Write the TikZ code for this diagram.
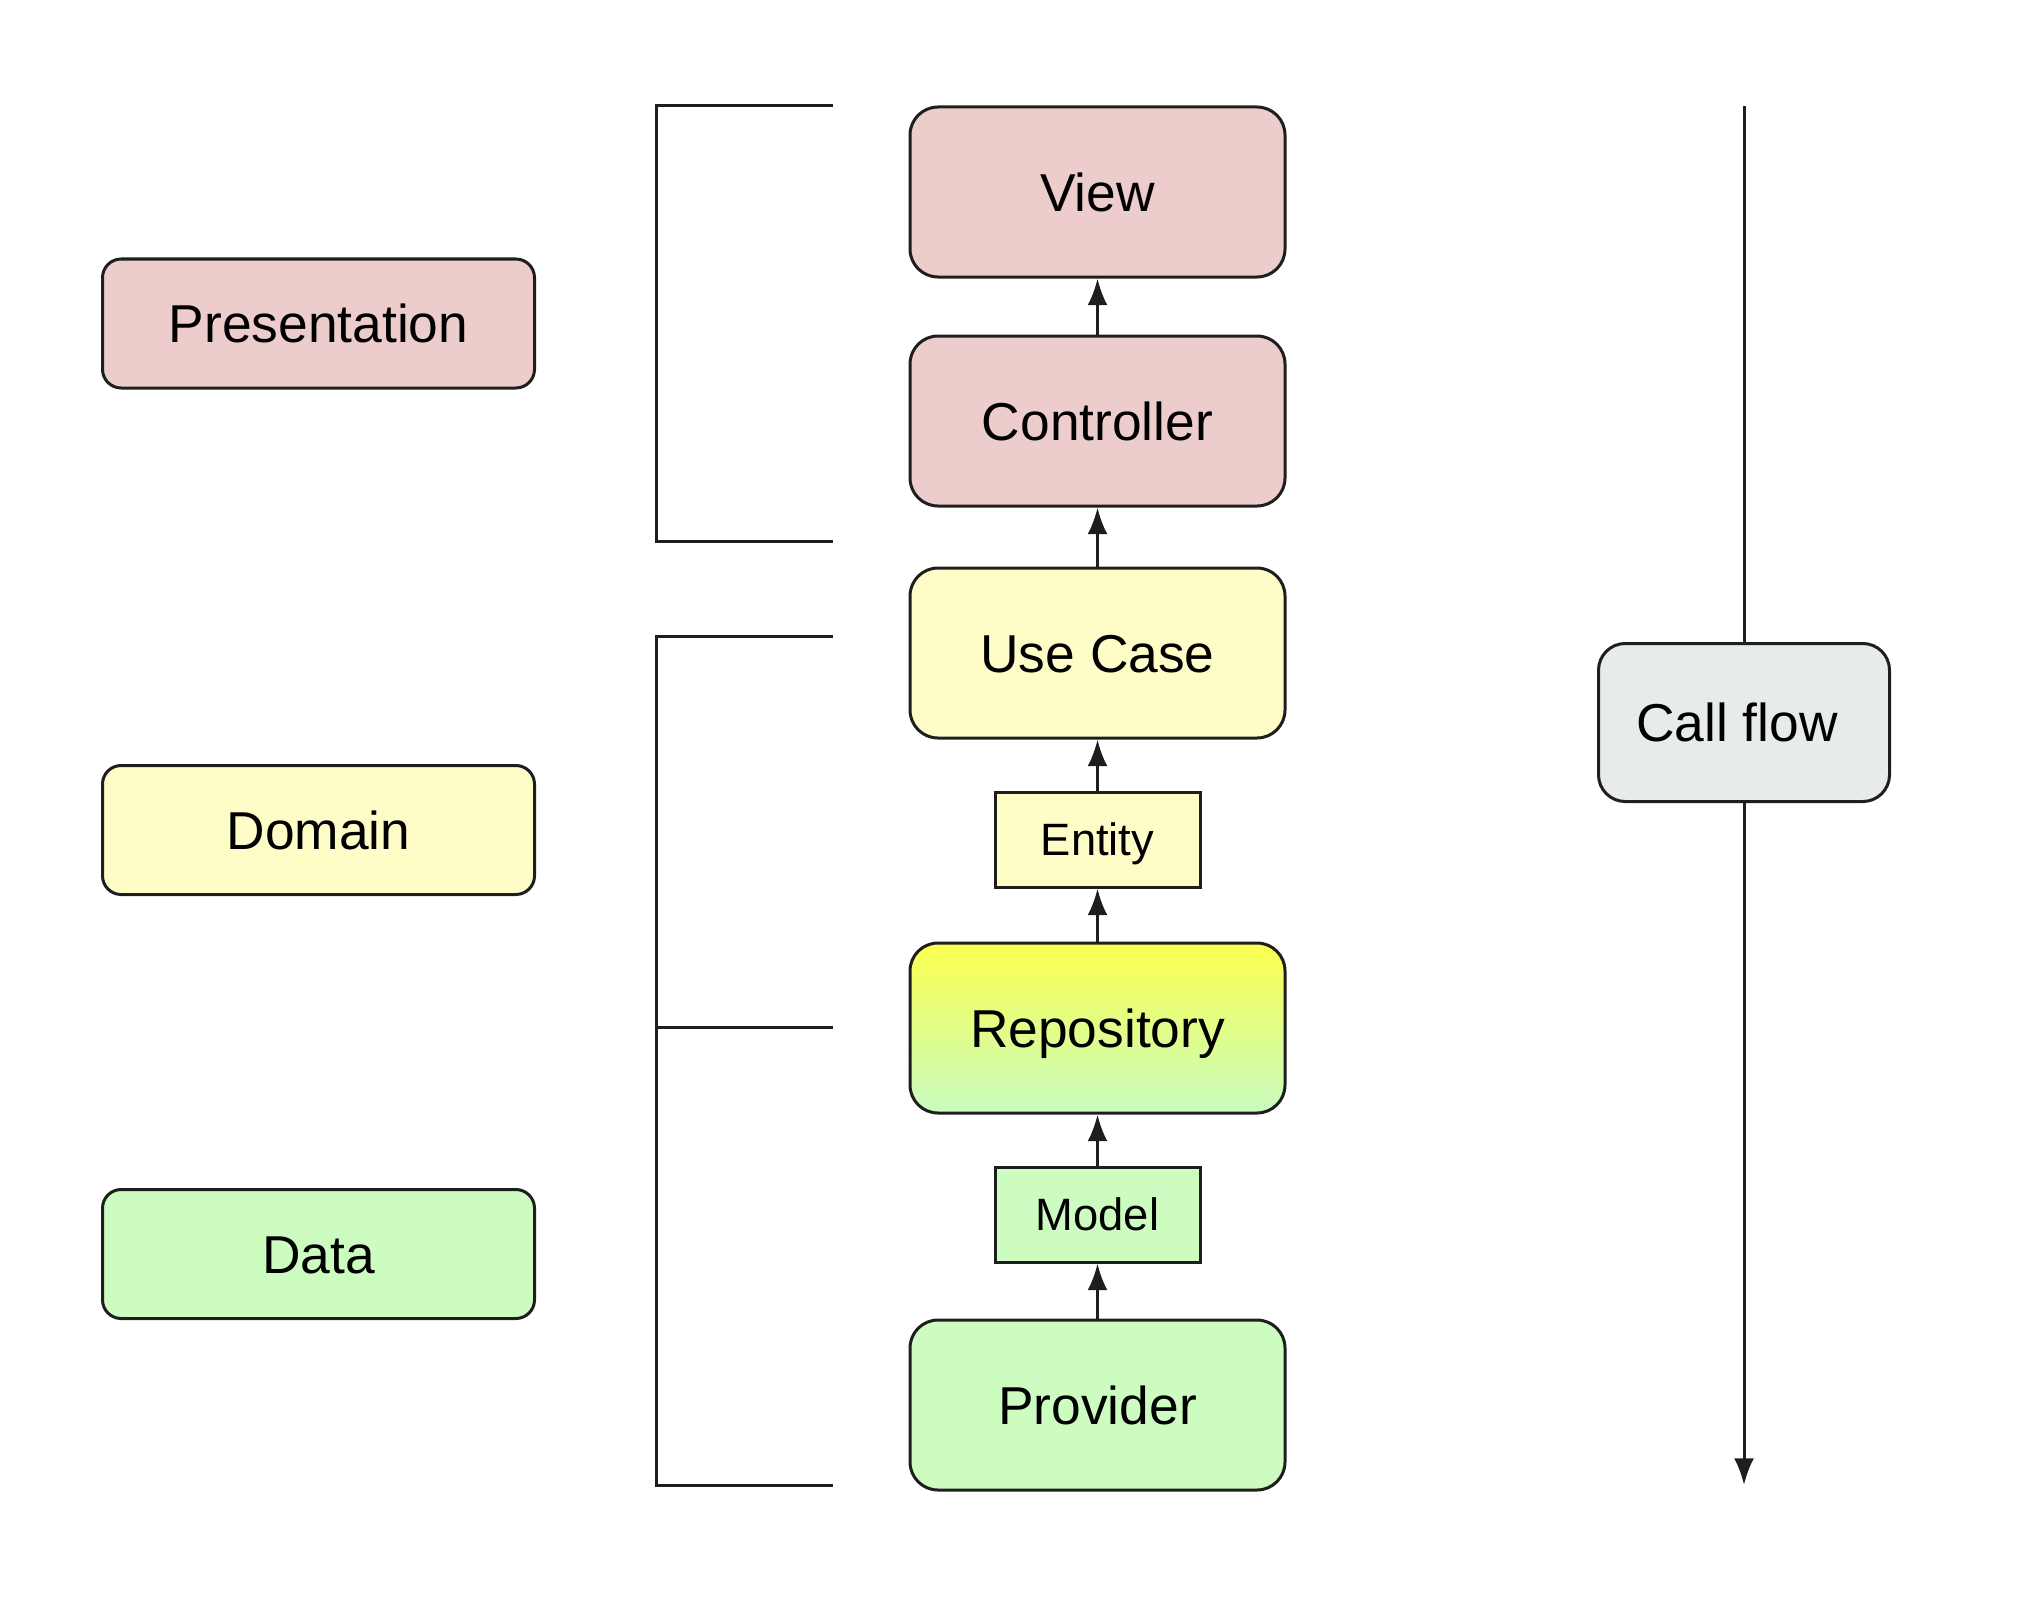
\documentclass[tikz,border=0pt]{standalone}
\usepackage{fontspec}
\setmainfont{Liberation Sans}
\usetikzlibrary{arrows.meta}
\begin{document}
\begin{tikzpicture}[x=0.75pt,y=0.75pt,yscale=-1,xscale=1,
    line/.style={draw={rgb, 255:red, 30; green, 30; blue, 30 }, line width=2.25pt},
    flow/.style={line, -{Latex[length=20pt,width=15pt]}},
    layer/.style={line, rounded corners=21pt, inner sep=0pt, minimum width=281.25pt, minimum height=127.5pt, text height=28.6pt, text depth=0pt, font=\fontsize{40}{48}\selectfont},
    item/.style={line, inner sep=0pt, minimum width=153.75pt, minimum height=71.25pt, text height=24.3pt, text depth=0pt, font=\fontsize{34}{40}\selectfont},
    legend/.style={line, rounded corners=14pt, inner sep=0pt, minimum width=324pt, minimum height=96.75pt, text height=28.6pt, text depth=0pt, font=\fontsize{40}{48}\selectfont},
    pink/.style={fill={rgb, 255:red, 236; green, 205; blue, 204 }},
    cream/.style={fill={rgb, 255:red, 254; green, 253; blue, 200 }},
    mint/.style={fill={rgb, 255:red, 204; green, 252; blue, 192 }}
    ]
    \useasboundingbox (0,0) rectangle (2040,1612); %set diagram at 2040 x 1612

    %Shape: legend boxes
    \node [legend, pink] (presentation) at (318.5,323.5) {Presentation};
    \node [legend, cream] (domain) at (318.5,830) {Domain};
    \node [legend, mint] (data) at (318.5,1254) {Data};

    %Shape: brackets
    \draw [line] (833,106) -- (656,106) -- (656,541) -- (833,541) ;
    \draw [line] (833,636) -- (656,636) -- (656,1485) -- (833,1485) (656,1027) -- (833,1027) ;

    %Shape: layer column
    \node [layer, pink] (view) at (1097.5,192) {View};
    \node [layer, pink] (controller) at (1097.5,421) {Controller};
    \node [layer, cream] (usecase) at (1097.5,653) {Use Case};
    \node [item, cream] (entity) at (1097.5,839.5) {Entity};
    \node [layer, top color={rgb, 255:red, 252; green, 255; blue, 80 }, bottom color={rgb, 255:red, 200; green, 252; blue, 192 }] (repository) at (1097.5,1028) {Repository};
    \node [item, mint] (model) at (1097.5,1214.5) {Model};
    \node [layer, mint] (provider) at (1097.5,1405) {Provider};

    %Straight Lines
    \draw [flow] (controller) -- (view) ;
    \draw [flow] (usecase) -- (controller) ;
    \draw [flow] (entity) -- (usecase) ;
    \draw [flow] (repository) -- (entity) ;
    \draw [flow] (model) -- (repository) ;
    \draw [flow] (provider) -- (model) ;

    %Shape: call flow
    \node [layer, rounded corners=20pt, minimum width=218.25pt, minimum height=118.5pt, fill={rgb, 255:red, 232; green, 235; blue, 236 }] (callflow) at (1744,722.5) {Call flow\kern10.5pt};
    \coordinate (flowtop) at (1744,106);
    \coordinate (flowend) at (1744,1485);
    \draw [line] (flowtop) -- (callflow) ;
    \draw [flow] (callflow) -- (flowend) ;

\end{tikzpicture}
\end{document}
